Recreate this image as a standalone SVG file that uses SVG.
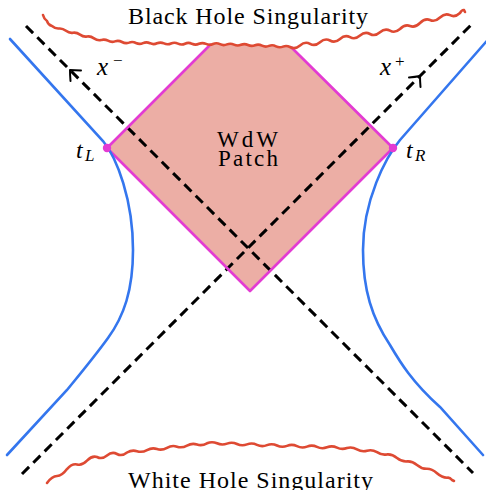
<svg xmlns="http://www.w3.org/2000/svg" width="486" height="490" viewBox="0 0 486 490">
<rect width="486" height="490" fill="#fff"/>
<g id="wdw-patch">
<path d="M107,148 L211,44 L250,45 L291,47 L393,148 L250,291 Z" fill="#ecaea5"/>
</g>
<g id="connectors" fill="none" stroke="#000">
<path stroke-width="3" stroke-dasharray="10 6" d="M26,26 L473,473"/>
<path stroke-width="3" stroke-dasharray="10 6" d="M22,474 L471,25"/>
<path stroke-width="2" stroke-linecap="round" stroke-linejoin="round" d="M81,70.5 Q75,70 70,70 Q70,75 70.5,81"/>
<path stroke-width="2" stroke-linecap="round" stroke-linejoin="round" d="M409,77.5 Q415,77 420,76 Q420,81 420.5,87"/>
</g>
<g id="patch-edges" fill="none" stroke="#e33bd3" stroke-width="2.6" stroke-linejoin="round">
<path d="M211,44 L107,148 L250,291 L393,148 L291,47"/>
</g>
<g id="boundaries" fill="none" stroke="#3476ee" stroke-width="2.6" stroke-linecap="round">
<path id="left-boundary" d="M10,39 L103,141 C117,158 133,200 133,250 C133,290 124,316 108,338 C95,356 85,368 67,390 L7,455"/>
<path id="right-boundary" d="M492,35 L400,140 C386,157 363,200 363,250 C363,290 372,318 390,345 C400,362 412,382 440,407 L483,455"/>
</g>
<g id="tL">
<circle cx="107" cy="148" r="4.2" fill="#e33bd3"/>
<text x="76" y="158" font-family="Liberation Serif" font-style="italic" font-size="24">t</text>
<text x="85" y="161" font-family="Liberation Serif" font-style="italic" font-size="17">L</text>
</g>
<g id="tR">
<circle cx="393" cy="148" r="4.2" fill="#e33bd3"/>
<text x="406" y="158" font-family="Liberation Serif" font-style="italic" font-size="24">t</text>
<text x="415" y="161" font-family="Liberation Serif" font-style="italic" font-size="17">R</text>
</g>
<g id="black-hole-singularity">
<path fill="none" stroke="#de4a33" stroke-width="2.6" stroke-linecap="round" stroke-linejoin="round" d="M43,15 Q44,19 47,21 Q48,25 52,26 Q55.5,28.9 59,28.5 Q62.5,28.1 66,30.8 Q69.5,33.4 73,32.7 Q76.5,32.1 80,34.6 Q83.5,37.2 87,36.5 Q90.5,35.8 94,38.4 Q97.5,40.9 101,40.1 Q104.5,38.8 108,40.7 Q111.5,42.7 115,41.4 Q118.5,40.1 122,42 Q125.5,43.9 129,42.6 Q132.5,41.2 136,43 Q139.5,44.7 143,43.1 Q146.5,41.6 150,43.2 Q153.5,44.9 157,43.3 Q160.5,41.8 164,43.4 Q167.5,45.1 171,43.5 Q174.5,42 178,43.6 Q181.5,45.3 185,43.7 Q188.5,42.1 192,43.8 Q195.5,45.4 199,43.8 Q202.5,42.3 206,43.9 Q209.5,45.6 213,44 Q216.5,42.5 220,44.2 Q223.5,45.9 227,44.4 Q230.5,42.9 234,44.6 Q237.5,46.3 241,44.8 Q244.5,43.3 248,45 Q251.5,46.7 255,45.2 Q258.5,43.8 262,45.6 Q265.5,47.4 269,45.9 Q272.5,44.5 276,46.3 Q279.5,48.1 283,46.6 Q286.5,45.2 290,47 Q295,49.8 300,45.5 Q305,41 310,43.8 Q315,46.6 320,42.2 Q325,37.8 330,40.5 Q335,43.3 340,38.9 Q345,34.4 350,37.2 Q355,40 360,35.6 Q365,31.2 370,34 Q375,36.7 380,32.3 Q385,27.9 390,30.7 Q395,33.4 400,29 Q405,23.9 410,26 Q415,28.1 420,23 Q425,17.9 430,20 Q435,22.3 440,17.5 Q445,12.7 450,15.2 Q455,17.7 460,13 Q462,9.5 464,10 L465,12"/>
<text x="248" y="24" font-family="Liberation Serif" font-size="24" text-anchor="middle" textLength="240" lengthAdjust="spacing">Black Hole Singularity</text>
</g>
<g id="white-hole-singularity">
<path fill="none" stroke="#de4a33" stroke-width="2.6" stroke-linecap="round" stroke-linejoin="round" d="M47,483 Q52,476.1 57,476 Q62,475.9 67,469.1 Q72,463.3 77,464.4 Q82,465.9 87,460.7 Q92,455.4 97,457 Q102,459.6 107,455.5 Q112,451.3 117,454 Q122,456.6 127,452.5 Q132,449.6 137,451.2 Q142,452.8 147,450.1 Q152,447.3 157,449 Q162,450.6 167,447.8 Q172,445 177,446.7 Q182,448.3 187,445.6 Q192,442.8 197,444.5 Q202,446.1 207,443.3 Q212,441.1 217,443.3 Q222,445.6 227,443.6 Q232,441.6 237,444 Q242,446.4 247,444.4 Q252,442.4 257,444.8 Q262,447.2 267,445.1 Q272,443.1 277,445.5 Q282,447.9 287,445.9 Q292,443.8 297,446.2 Q302,448.6 307,446.6 Q312,444.5 317,446.9 Q322,449.3 327,447.3 Q332,445.2 337,447.6 Q342,450 347,448 Q352,446.5 357,449.4 Q362,452.3 367,450.8 Q372,449.3 377,452.2 Q382,455.5 387,454.4 Q392,453.9 397,457.9 Q402,461.8 407,461.4 Q412,460.9 417,464.9 Q422,469 427,468.8 Q432,468.8 437,473.3 Q442,477.7 447,477.8 Q449.5,476.9 452,480 L454,481"/>
<text x="250.5" y="488" font-family="Liberation Serif" font-size="24" text-anchor="middle" textLength="245" lengthAdjust="spacing">White Hole Singularity</text>
</g>
<g id="patch-label">
<text x="247.5" y="147" font-family="Liberation Serif" font-size="23" text-anchor="middle" textLength="61" lengthAdjust="spacing">WdW</text>
<text x="248" y="166" font-family="Liberation Serif" font-size="23" text-anchor="middle" textLength="60" lengthAdjust="spacing">Patch</text>
</g>
<g id="axis-labels">
<text x="97" y="75" font-family="Liberation Serif" font-size="25" font-style="italic">x</text>
<text x="113" y="66" font-family="Liberation Serif" font-size="17">−</text>
<text x="380" y="75" font-family="Liberation Serif" font-size="25" font-style="italic">x</text>
<text x="395" y="67" font-family="Liberation Serif" font-size="17">+</text>
</g>
</svg>
